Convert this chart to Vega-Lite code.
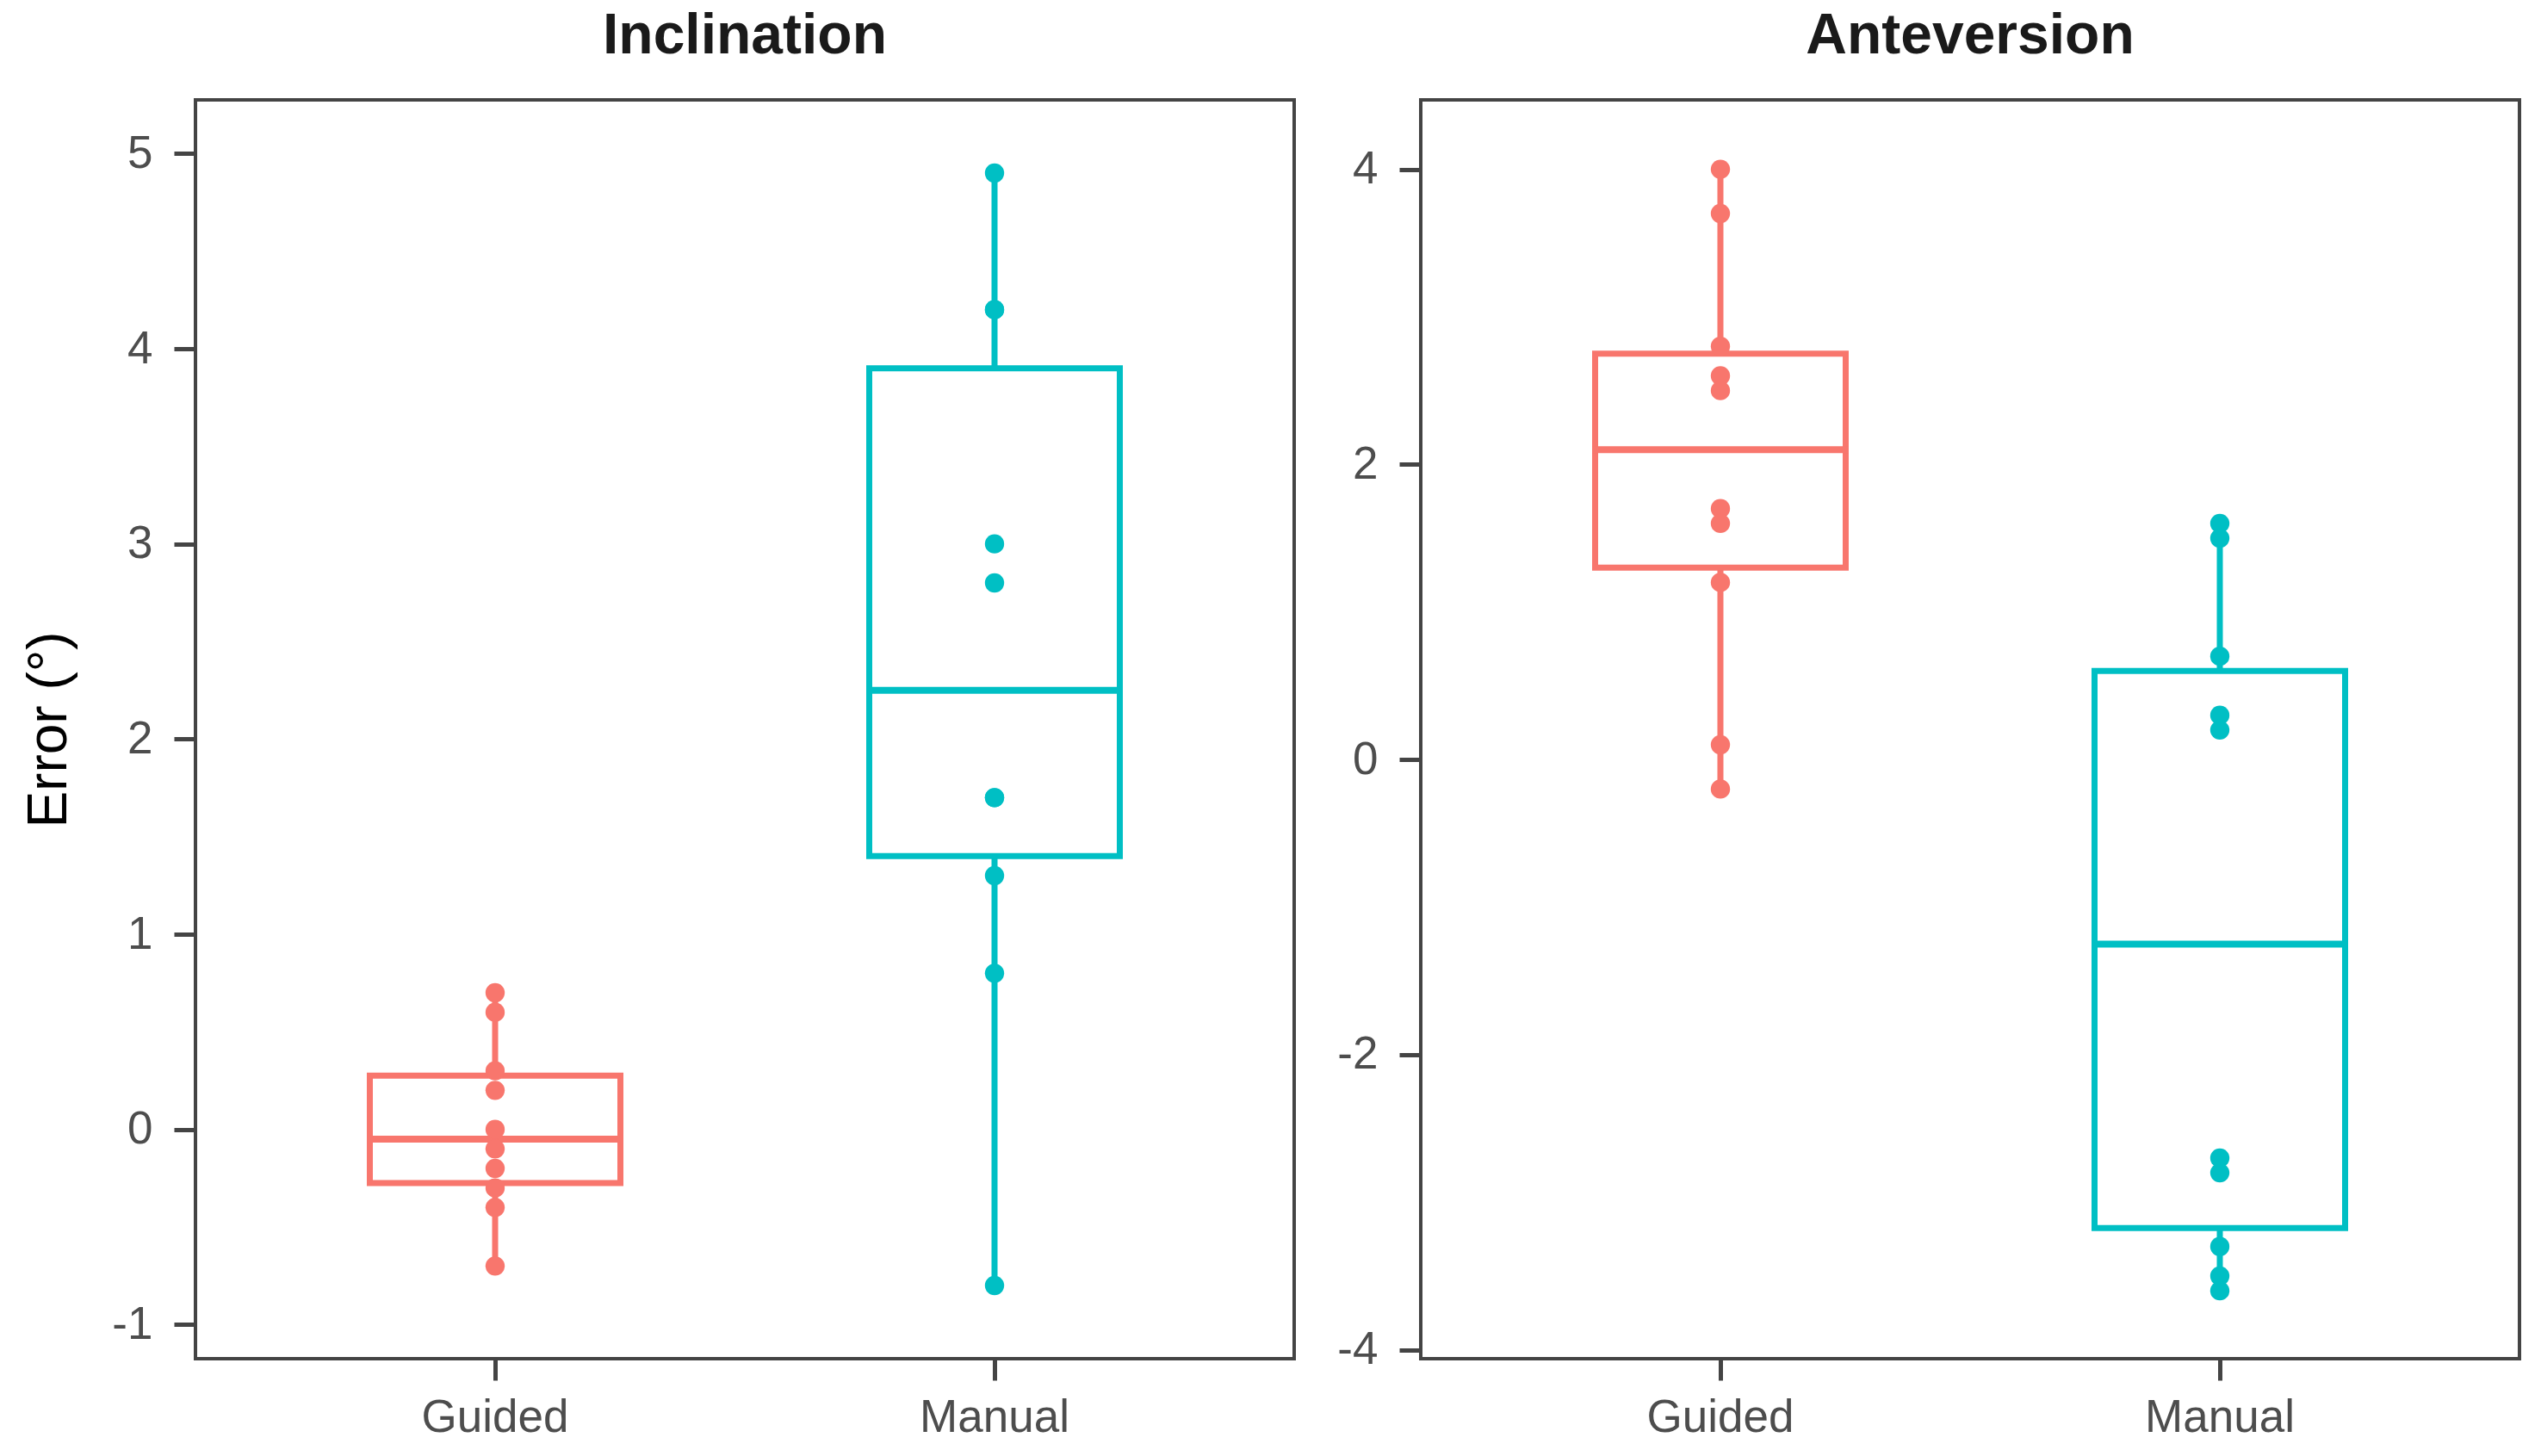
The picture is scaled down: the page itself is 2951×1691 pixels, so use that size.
{
  "$schema": "https://vega.github.io/schema/vega-lite/v6.json",
  "background": "white",
  "padding": {"left": 23, "top": 7, "right": 26, "bottom": 10},
  "config": {
    "font": "Liberation Sans",
    "view": {"stroke": "#444444", "strokeWidth": 4},
    "title": {"fontSize": 66, "fontWeight": "bold", "color": "#1a1a1a", "anchor": "middle", "offset": 40, "font": "Liberation Sans"},
    "axis": {
      "grid": false, "domain": false, "tickColor": "#444444", "tickWidth": 5, "tickSize": 25,
      "labelFontSize": 53, "labelColor": "#4d4d4d", "labelPadding": 25, "labelFont": "Liberation Sans",
      "titleFontSize": 64, "titleFontWeight": "normal", "titleColor": "#000000", "titleFont": "Liberation Sans"
    },
    "axisX": {"labelPadding": 17},
    "concat": {"spacing": 45}
  },
  "datasets": {
    "rows": [
      {"panel": "Inclination", "method": "Guided", "value": 0.7},
      {"panel": "Inclination", "method": "Guided", "value": 0.6},
      {"panel": "Inclination", "method": "Guided", "value": 0.3},
      {"panel": "Inclination", "method": "Guided", "value": 0.2},
      {"panel": "Inclination", "method": "Guided", "value": 0.0},
      {"panel": "Inclination", "method": "Guided", "value": -0.1},
      {"panel": "Inclination", "method": "Guided", "value": -0.2},
      {"panel": "Inclination", "method": "Guided", "value": -0.3},
      {"panel": "Inclination", "method": "Guided", "value": -0.4},
      {"panel": "Inclination", "method": "Guided", "value": -0.7},
      {"panel": "Inclination", "method": "Manual", "value": 4.9},
      {"panel": "Inclination", "method": "Manual", "value": 4.2},
      {"panel": "Inclination", "method": "Manual", "value": 4.2},
      {"panel": "Inclination", "method": "Manual", "value": 3.0},
      {"panel": "Inclination", "method": "Manual", "value": 2.8},
      {"panel": "Inclination", "method": "Manual", "value": 1.7},
      {"panel": "Inclination", "method": "Manual", "value": 1.7},
      {"panel": "Inclination", "method": "Manual", "value": 1.3},
      {"panel": "Inclination", "method": "Manual", "value": 0.8},
      {"panel": "Inclination", "method": "Manual", "value": -0.8},
      {"panel": "Anteversion", "method": "Guided", "value": 4.0},
      {"panel": "Anteversion", "method": "Guided", "value": 3.7},
      {"panel": "Anteversion", "method": "Guided", "value": 2.8},
      {"panel": "Anteversion", "method": "Guided", "value": 2.6},
      {"panel": "Anteversion", "method": "Guided", "value": 2.5},
      {"panel": "Anteversion", "method": "Guided", "value": 1.7},
      {"panel": "Anteversion", "method": "Guided", "value": 1.6},
      {"panel": "Anteversion", "method": "Guided", "value": 1.2},
      {"panel": "Anteversion", "method": "Guided", "value": 0.1},
      {"panel": "Anteversion", "method": "Guided", "value": -0.2},
      {"panel": "Anteversion", "method": "Manual", "value": 1.6},
      {"panel": "Anteversion", "method": "Manual", "value": 1.5},
      {"panel": "Anteversion", "method": "Manual", "value": 0.7},
      {"panel": "Anteversion", "method": "Manual", "value": 0.3},
      {"panel": "Anteversion", "method": "Manual", "value": 0.2},
      {"panel": "Anteversion", "method": "Manual", "value": -2.7},
      {"panel": "Anteversion", "method": "Manual", "value": -2.8},
      {"panel": "Anteversion", "method": "Manual", "value": -3.3},
      {"panel": "Anteversion", "method": "Manual", "value": -3.5},
      {"panel": "Anteversion", "method": "Manual", "value": -3.6}
    ]
  },
  "hconcat": [
    {
      "title": "Inclination",
      "width": 1276,
      "height": 1462,
      "data": {"name": "rows"},
      "transform": [{"filter": "datum.panel === 'Inclination'"}],
      "encoding": {
        "x": {"field": "method", "type": "nominal", "title": null,
              "scale": {"paddingInner": 0, "paddingOuter": 0.1},
              "axis": {"labelAngle": 0}}
      },
      "layer": [
        {
          "mark": {"type": "rule", "strokeWidth": 7},
          "encoding": {
            "y": {"aggregate": "min", "field": "value", "type": "quantitative", "title": "Error (°)",
                  "scale": {"domain": [-1.175, 5.275], "nice": false, "zero": false},
                  "axis": {"values": [-1, 0, 1, 2, 3, 4, 5], "labelExpr": "'' + datum.value", "titlePadding": 40}},
            "y2": {"aggregate": "max", "field": "value"},
            "color": {"field": "method", "type": "nominal", "scale": {"domain": ["Guided", "Manual"], "range": ["#F8766D", "#00BFC4"]}, "legend": null}
          }
        },
        {
          "mark": {"type": "bar", "fill": "white", "strokeWidth": 7, "size": 291},
          "encoding": {
            "y": {"aggregate": "q1", "field": "value", "type": "quantitative", "title": "Error (°)"},
            "y2": {"aggregate": "q3", "field": "value"},
            "stroke": {"field": "method", "type": "nominal", "scale": {"domain": ["Guided", "Manual"], "range": ["#F8766D", "#00BFC4"]}, "legend": null}
          }
        },
        {
          "mark": {"type": "tick", "thickness": 8, "size": 298, "opacity": 1},
          "encoding": {
            "y": {"aggregate": "median", "field": "value", "type": "quantitative", "title": "Error (°)"},
            "color": {"field": "method", "type": "nominal", "legend": null}
          }
        },
        {
          "mark": {"type": "circle", "size": 500, "opacity": 1},
          "encoding": {
            "y": {"field": "value", "type": "quantitative", "title": "Error (°)"},
            "color": {"field": "method", "type": "nominal", "legend": null}
          }
        }
      ]
    },
    {
      "title": "Anteversion",
      "width": 1276,
      "height": 1462,
      "data": {"name": "rows"},
      "transform": [{"filter": "datum.panel === 'Anteversion'"}],
      "encoding": {
        "x": {"field": "method", "type": "nominal", "title": null,
              "scale": {"paddingInner": 0, "paddingOuter": 0.1},
              "axis": {"labelAngle": 0}}
      },
      "layer": [
        {
          "mark": {"type": "rule", "strokeWidth": 7},
          "encoding": {
            "y": {"aggregate": "min", "field": "value", "type": "quantitative", "title": null,
                  "scale": {"domain": [-4.06, 4.47], "nice": false, "zero": false},
                  "axis": {"values": [-4, -2, 0, 2, 4], "labelExpr": "'' + datum.value"}},
            "y2": {"aggregate": "max", "field": "value"},
            "color": {"field": "method", "type": "nominal", "scale": {"domain": ["Guided", "Manual"], "range": ["#F8766D", "#00BFC4"]}, "legend": null}
          }
        },
        {
          "mark": {"type": "bar", "fill": "white", "strokeWidth": 7, "size": 291},
          "encoding": {
            "y": {"aggregate": "q1", "field": "value", "type": "quantitative", "title": null},
            "y2": {"aggregate": "q3", "field": "value"},
            "stroke": {"field": "method", "type": "nominal", "scale": {"domain": ["Guided", "Manual"], "range": ["#F8766D", "#00BFC4"]}, "legend": null}
          }
        },
        {
          "mark": {"type": "tick", "thickness": 8, "size": 298, "opacity": 1},
          "encoding": {
            "y": {"aggregate": "median", "field": "value", "type": "quantitative", "title": null},
            "color": {"field": "method", "type": "nominal", "legend": null}
          }
        },
        {
          "mark": {"type": "circle", "size": 500, "opacity": 1},
          "encoding": {
            "y": {"field": "value", "type": "quantitative", "title": null},
            "color": {"field": "method", "type": "nominal", "legend": null}
          }
        }
      ]
    }
  ]
}
